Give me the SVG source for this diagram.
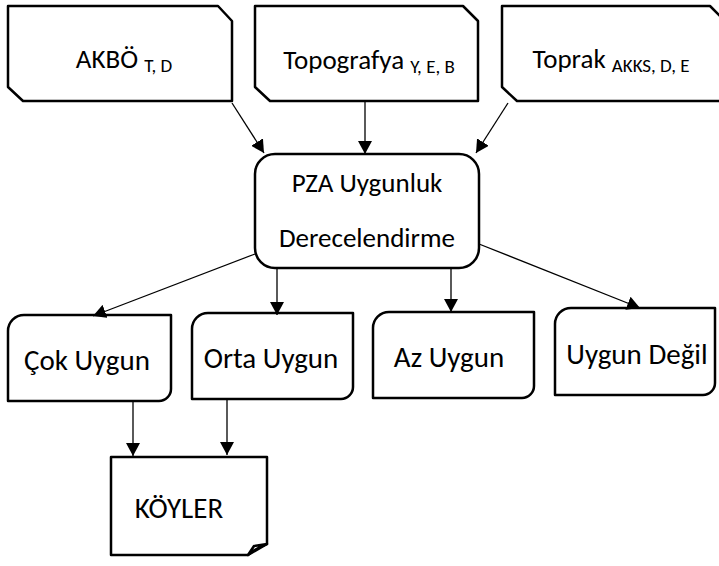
<svg xmlns="http://www.w3.org/2000/svg" width="719" height="566" viewBox="0 0 719 566">
<defs>
<style>
.box{fill:#fff;stroke:#000;stroke-width:2.5;stroke-linejoin:round}
.t{font-family:Carlito,Lato,"Liberation Sans",sans-serif;font-size:27px;fill:#000;text-anchor:middle}
.b{font-size:29px}
.s{font-size:19px}
.c{stroke:#000;stroke-width:1.3;fill:none;marker-end:url(#ah)}
</style>
<marker id="ah" markerUnits="userSpaceOnUse" markerWidth="14" markerHeight="14" refX="12" refY="6.5" orient="auto" viewBox="0 0 13 13">
<path d="M0,0 L12,6.5 L0,13 z" fill="#000"/>
</marker>
</defs>
<rect width="719" height="566" fill="#fff"/>
<g id="akbo">
<path class="box" d="M8,6 L218,6 L232,21 L232,101 L23,101 L8,87 Z"/>
<text class="t" x="124" y="68">AKBÖ <tspan class="s" dy="4">T, D</tspan></text>
</g>
<g id="topografya">
<path class="box" d="M255,6 L463,6 L478,21 L478,101 L270,101 L255,87 Z"/>
<text class="t" x="369" y="69">Topografya <tspan class="s" dy="4">Y, E, B</tspan></text>
</g>
<g id="toprak">
<path class="box" d="M502,6 L710,6 L725,21 L725,101 L517,101 L502,87 Z"/>
<text class="t" x="611" y="68">Toprak <tspan class="s" dy="4">AKKS, D, E</tspan></text>
</g>
<g id="pza">
<rect class="box" x="255" y="154" width="224" height="114" rx="20"/>
<text class="t" x="367" y="192">PZA Uygunluk</text>
<text class="t" x="367" y="247">Derecelendirme</text>
</g>
<g id="cok">
<path class="box" d="M8,331 A16,16 0 0 1 24,315 L171,315 L171,389 A12,12 0 0 1 159,401 L8,401 Z"/>
<text class="t b" x="87" y="370">Çok Uygun</text>
</g>
<g id="orta">
<path class="box" d="M192,329 A16,16 0 0 1 208,313 L353,313 L353,387 A12,12 0 0 1 341,399 L192,399 Z"/>
<text class="t b" x="271" y="368">Orta Uygun</text>
</g>
<g id="az">
<path class="box" d="M373,328 A16,16 0 0 1 389,312 L534,312 L534,386 A12,12 0 0 1 522,398 L373,398 Z"/>
<text class="t b" x="449" y="367">Az Uygun</text>
</g>
<g id="degil">
<path class="box" d="M555,324 A16,16 0 0 1 571,308 L715,308 L715,383 A12,12 0 0 1 703,395 L555,395 Z"/>
<text class="t b" x="637" y="364">Uygun Değil</text>
</g>
<g id="koyler">
<path class="box" d="M111,457 L267,457 L267,544 L248,555 L111,555 Z"/>
<path class="box" d="M248,555 L254,546 L267,544 Q258,547 248,555 Z" stroke-width="2"/>
<text class="t b" x="179" y="518">KÖYLER</text>
</g>
<g id="connectors">
<line class="c" x1="232" y1="103" x2="264" y2="153"/>
<line class="c" x1="365" y1="101" x2="365" y2="154"/>
<line class="c" x1="508" y1="103" x2="476" y2="153"/>
<line class="c" x1="255" y1="254" x2="93" y2="316"/>
<line class="c" x1="277" y1="268" x2="277" y2="315"/>
<line class="c" x1="451" y1="268" x2="451" y2="312"/>
<line class="c" x1="479" y1="244" x2="640" y2="308"/>
<line class="c" x1="133" y1="401" x2="133" y2="456"/>
<line class="c" x1="227" y1="399" x2="227" y2="455"/>
</g>
</svg>
